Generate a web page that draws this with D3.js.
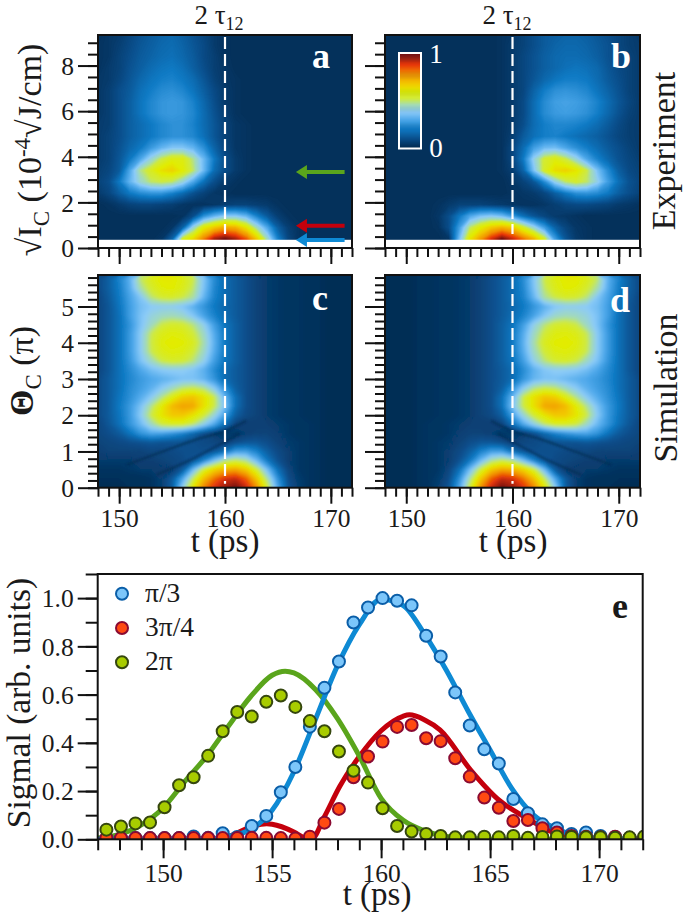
<!DOCTYPE html>
<html><head><meta charset="utf-8">
<script src="https://cdn.jsdelivr.net/npm/d3@7"></script>
<style>html,body{margin:0;padding:0;background:#fff}svg{display:block}text{font-family:"Liberation Serif",serif;fill:#1a1a1a}</style>
</head><body><svg id="c" width="685" height="916"></svg>
<script>
// ---- heatmap grids (percent of max); rows bottom to top, columns t = 148..172 by 1 ps
const heatTimes = d3.range(148, 173);
const expRows = d3.range(0.4, 9.5, 0.5);
const simRows = d3.range(0, 5.8, 0.25);
const gridA = [
[2,2,2,2,2,2,4,15,55,65,80,95,100,95,85,68,45,22,8,3,2,2,2,2,2],
[2,2,2,2,2,2,2,4,15,42,60,68,74,72,62,45,30,14,6,3,2,2,2,2,2],
[2,2,2,2,2,2,2,2,3,10,25,33,38,38,33,22,13,6,3,2,2,2,2,2,2],
[2,3,5,7,8,8,7,6,4,3,3,4,6,7,7,6,5,3,2,2,2,2,2,2,2],
[5,8,14,20,24,26,26,22,17,11,7,4,3,2,2,2,2,2,2,2,2,2,2,2,2],
[7,10,20,33,43,50,52,50,42,30,18,10,5,3,2,2,2,2,2,2,2,2,2,2,2],
[6,8,13,30,48,56,63,66,60,50,34,17,10,5,3,2,2,2,2,2,2,2,2,2,2],
[5,7,12,20,30,42,52,58,58,48,34,20,10,5,3,2,2,2,2,2,2,2,2,2,2],
[5,7,11,16,20,27,33,37,37,33,25,15,8,4,3,2,2,2,2,2,2,2,2,2,2],
[5,7,10,14,17,20,23,25,25,23,18,12,7,4,3,2,2,2,2,2,2,2,2,2,2],
[5,6,10,14,17,20,23,25,25,22,17,12,7,4,3,2,2,2,2,2,2,2,2,2,2],
[4,6,10,14,19,23,26,27,26,23,17,11,6,3,2,2,2,2,2,2,2,2,2,2,2],
[4,6,10,14,19,23,26,27,26,22,16,10,5,3,2,2,2,2,2,2,2,2,2,2,2],
[4,6,10,13,18,21,24,25,23,19,14,9,5,3,2,2,2,2,2,2,2,2,2,2,2],
[4,5,8,12,16,19,21,22,20,17,12,7,4,3,2,2,2,2,2,2,2,2,2,2,2],
[3,5,7,11,14,17,19,20,18,14,10,6,4,2,2,2,2,2,2,2,2,2,2,2,2],
[3,4,7,10,13,15,17,18,16,13,9,6,3,2,2,2,2,2,2,2,2,2,2,2,2],
[3,4,6,9,12,14,16,17,15,12,9,5,3,2,2,2,2,2,2,2,2,2,2,2,2],
[2,4,5,8,11,13,15,16,14,11,8,5,3,2,2,2,2,2,2,2,2,2,2,2,2]];
const gridB = [
[2,2,2,2,2,2,4,35,62,76,90,100,92,82,72,55,28,12,5,3,2,2,2,2,2],
[2,2,2,2,2,3,10,28,50,60,68,72,68,55,42,28,15,8,4,3,2,2,2,2,2],
[2,2,2,2,2,4,10,20,30,36,38,35,27,18,12,8,5,4,3,2,2,2,2,2,2],
[2,2,2,2,2,3,5,7,7,7,6,5,4,3,3,4,6,8,9,9,8,7,5,4,3],
[2,2,2,2,2,2,2,2,2,2,2,2,3,4,5,8,14,20,25,26,24,20,14,10,7],
[2,2,2,2,2,2,2,2,2,2,2,2,4,7,12,24,40,50,54,50,40,28,18,11,8],
[2,2,2,2,2,2,2,2,2,2,2,3,6,15,36,55,64,66,62,52,36,24,14,9,7],
[2,2,2,2,2,2,2,2,2,2,2,3,8,20,40,54,58,52,42,30,22,16,11,8,6],
[2,2,2,2,2,2,2,2,2,2,2,3,8,17,28,34,35,30,25,21,17,13,10,7,5],
[2,2,2,2,2,2,2,2,2,2,2,3,6,13,18,21,22,20,18,16,14,11,8,6,5],
[2,2,2,2,2,2,2,2,2,2,2,3,5,10,17,21,23,23,22,20,17,13,9,6,5],
[2,2,2,2,2,2,2,2,2,2,2,3,5,9,17,24,27,28,27,25,21,16,11,7,5],
[2,2,2,2,2,2,2,2,2,2,2,3,5,9,17,24,28,29,28,26,22,17,12,8,5],
[2,2,2,2,2,2,2,2,2,2,2,3,5,8,15,21,25,26,25,23,19,15,11,7,5],
[2,2,2,2,2,2,2,2,2,2,2,3,5,8,12,16,19,21,21,20,17,13,10,7,5],
[2,2,2,2,2,2,2,2,2,2,2,3,5,8,11,14,16,18,19,18,16,12,9,7,5],
[2,2,2,2,2,2,2,2,2,2,2,3,5,8,11,14,16,17,17,16,14,11,9,7,5],
[2,2,2,2,2,2,2,2,2,2,2,3,5,7,10,13,15,16,16,15,13,11,8,6,5],
[2,2,2,2,2,2,2,2,2,2,2,3,4,7,10,13,14,15,15,14,12,10,8,6,4]];
const gridC = [
[1,1,1,2,2,3,6,14,40,62,80,90,96,100,92,78,55,30,12,6,3,2,1,1,1],
[2,2,2,2,2,3,6,13,30,52,70,82,90,92,84,68,47,25,10,5,3,2,1,1,1],
[3,3,3,4,5,5,5,6,13,34,55,66,72,74,68,54,35,18,8,4,3,2,1,1,1],
[5,5,5,5,6,6,7,8,9,12,22,36,48,52,47,34,20,11,6,4,3,2,1,1,1],
[6,7,7,7,7,8,8,9,10,10,10,12,18,28,28,22,14,9,6,4,3,2,1,1,1],
[7,8,9,10,11,12,11,11,11,10,9,8,7,10,12,12,10,7,5,4,3,2,1,1,1],
[8,10,13,19,26,30,29,26,22,16,10,6,4,4,6,7,7,6,4,3,3,2,1,1,1],
[8,12,18,26,34,44,53,56,56,50,40,30,18,8,6,6,6,5,4,3,3,2,1,1,1],
[9,13,19,27,38,52,62,68,68,62,54,42,28,14,9,7,5,4,3,3,2,2,1,1,1],
[9,13,20,27,36,48,60,71,75,74,63,52,36,18,10,7,5,4,3,3,2,2,1,1,1],
[9,13,19,25,31,38,48,58,67,69,63,52,33,18,10,7,5,4,3,3,2,2,1,1,1],
[9,13,18,24,28,32,38,44,50,52,48,38,25,14,10,7,5,4,3,3,2,2,1,1,1],
[9,13,18,23,27,30,32,34,36,36,33,26,17,13,10,7,5,4,3,3,2,2,1,1,1],
[8,12,18,24,30,35,38,39,39,37,32,24,17,13,10,7,5,4,3,3,2,2,1,1,1],
[8,12,18,26,36,44,52,55,54,49,40,28,19,14,10,7,5,4,3,3,2,2,1,1,1],
[8,12,18,27,38,51,57,59,58,53,44,31,20,14,10,7,5,4,3,3,2,2,1,1,1],
[8,12,18,27,38,52,59,61,60,56,46,32,20,14,10,7,5,4,3,3,2,2,1,1,1],
[8,12,18,27,38,51,57,59,58,53,44,31,20,14,10,7,5,4,3,3,2,2,1,1,1],
[8,12,18,26,36,44,52,55,54,49,40,28,19,14,10,7,5,4,3,3,2,2,1,1,1],
[8,12,18,28,36,41,44,45,43,37,29,22,17,13,10,7,5,4,3,3,2,2,1,1,1],
[8,12,19,28,35,38,39,39,37,32,26,20,16,13,10,7,5,4,3,3,2,2,1,1,1],
[8,13,20,29,37,49,54,55,52,47,33,22,17,13,10,7,5,4,3,3,2,2,1,1,1],
[9,14,21,31,46,54,59,60,57,50,36,23,17,13,10,7,5,4,3,3,2,2,1,1,1],
[9,14,22,32,50,57,61,61,58,52,37,24,17,13,10,7,5,4,3,3,2,2,1,1,1]];
const gridD = gridC.map(r => r.slice().reverse());
// dark nodal lines of the simulation panel c, as [t, theta]
const nodeUpper = [[150.7,.63],[154.5,1.04],[157.6,1.36],[160,1.56],[162,1.85]];
const nodeLower = [[153.5,.35],[156.4,.72],[160,1.27],[161.4,1.5]];

// ---- colour map
const cmapStops = [0,.1,.2,.3,.38,.46,.52,.6,.68,.78,.88,1];
const cmapColors = ["#03294f","#0a4f8c","#0f7ac4","#4ea8ea","#8ccbf8","#a6dcb0","#cfea40","#e2ec00","#f2c800","#f29000","#e8380a","#6e0f12"];
const color = d3.scaleLinear().domain(cmapStops).range(cmapColors).clamp(true);

// ---- panel e data
const pointTimes = d3.range(38).map(i => 147.4 + i * 2 / 3);
const blueValues = [.005,.005,.005,.005,.005,.005,.012,.006,.025,.01,.055,.097,.195,.30,.467,.628,.737,.899,.961,1.0,.989,.97,.844,.758,.609,.472,.373,.314,.167,.108,.062,.046,.022,.028,.014,.01,.006,.006];
const redValues = [.006,.005,.005,.005,.005,.005,.005,.005,.005,.005,.006,.006,.005,.003,.011,.069,.126,.257,.343,.405,.466,.474,.419,.407,.336,.26,.173,.131,.076,.08,.046,.028,.014,.011,.008,.011,.006,.006];
const greenValues = [.04,.053,.066,.07,.133,.224,.257,.346,.448,.528,.509,.57,.596,.549,.49,.448,.364,.284,.235,.129,.055,.032,.022,.014,.008,.008,.011,.008,.014,.006,.01,.012,.01,.008,.008,.006,.008,.012];
const blueLineT = [147,152,153,154,155,156,157,158,159,160,161,162,163,164,165,166,167,168,169,170,172];
const blueLineV = [0,0,.012,.04,.12,.28,.50,.72,.89,.995,.97,.85,.70,.53,.37,.21,.10,.045,.015,.005,0];
const redLineT = [147,152,153,154,154.75,155,156,156.5,156.8,157.4,158.1,159,160,161,161.3,162,162.7,164.1,165.4,166.7,168,169,170,172];
const redLineV = [0,.002,.012,.05,.064,.062,.03,.005,0,.094,.219,.343,.45,.51,.516,.495,.454,.288,.163,.087,.025,.007,.001,0];
const greenLineT = [147,148,149,150,151,152,153,154,155,155.6,156,157,158,159,160,161,162,163,164,165,172];
const greenLineV = [.005,.02,.06,.13,.24,.345,.47,.59,.68,.697,.69,.62,.5,.345,.17,.08,.035,.012,.004,0,0];
const legendLabels = ["π/3","3π/4","2π"];

const svg = d3.select("#c");
const defs = svg.append("defs");
defs.append("filter").attr("id","soft").attr("x","-5%").attr("y","-5%").attr("width","110%").attr("height","110%").append("feGaussianBlur").attr("stdDeviation",1.5);
defs.append("filter").attr("id","softLine").attr("filterUnits","userSpaceOnUse").attr("x",0).attr("y",0).attr("width",685).attr("height",916).append("feGaussianBlur").attr("stdDeviation",1);
let clipId = 0;
const black = "#111";

function axisTicks(g, axis){
  g.call(axis);
  g.select(".domain").remove();
  g.selectAll("line").attr("stroke", black).attr("stroke-width", 2);
}

function heatPanel(o){
  const x = d3.scaleLinear().domain([148,172]).range([o.l,o.r]);
  const y = d3.scaleLinear().domain([0,o.top]).range([o.b,o.t]);
  const id = "clip"+(clipId++);
  defs.append("clipPath").attr("id",id).append("rect").attr("x",o.l).attr("y",o.t).attr("width",o.r-o.l).attr("height",o.b-o.t);
  const g = svg.append("g");
  const plot = g.append("g").attr("clip-path",`url(#${id})`);
  plot.append("rect").attr("x",o.l).attr("y",o.t).attr("width",o.r-o.l).attr("height",o.b-o.t).attr("fill",color(0));
  const n = heatTimes.length, m = o.rows.length;
  const vals = o.grid.flat();
  const contours = d3.contours().size([n,m]).thresholds(d3.range(0.5,100,0.5))(vals);
  const dt = heatTimes[1]-heatTimes[0], dv = o.rows[1]-o.rows[0];
  const proj = d3.geoTransform({point(px,py){
    this.stream.point(x(heatTimes[0]+(px-0.5)*dt), y(o.rows[0]+(py-0.5)*dv));
  }});
  const path = d3.geoPath(proj);
  plot.append("g").attr("filter",o.nodes?"url(#soft)":null).selectAll("path").data(contours).join("path").attr("d",path).attr("fill",d=>color(d.value/100));
  if(o.nodes){
    const ln = d3.line().curve(d3.curveCatmullRom).x(d=>x(o.mirror?320-d[0]:d[0])).y(d=>y(d[1]));
    o.nodes.forEach(nd=>{
      plot.append("path").attr("d",ln(nd)).attr("fill","none").attr("stroke",color(0)).attr("stroke-width",2.2).attr("stroke-opacity",.65).attr("filter","url(#softLine)");
    });
  }
  if(o.white!=null){
    plot.append("rect").attr("x",o.l).attr("y",y(o.white)).attr("width",o.r-o.l).attr("height",o.b-y(o.white)).attr("fill","#fff");
  }
  g.append("line").attr("x1",x(160)).attr("x2",x(160)).attr("y1",o.t+2).attr("y2",o.b-(o.dashEnd||0)).attr("stroke","#fff").attr("stroke-width",2.2).attr("stroke-dasharray","12,5");
  axisTicks(g.append("g").attr("transform",`translate(0,${o.b})`), d3.axisBottom(x).tickValues(d3.range(148,173)).tickSize(9).tickFormat(""));
  const major = g.append("g").attr("transform",`translate(0,${o.b})`);
  axisTicks(major, d3.axisBottom(x).tickValues([150,160,170]).tickSize(16).tickFormat(d=>d));
  major.selectAll("text").attr("font-size",25.5).attr("dy",0).attr("y",39);
  if(!o.showX) major.selectAll("text").remove();
  axisTicks(g.append("g").attr("transform",`translate(${o.l},0)`), d3.axisLeft(y).tickValues(o.minor).tickSize(10).tickFormat(""));
  const my = g.append("g").attr("transform",`translate(${o.l},0)`);
  axisTicks(my, d3.axisLeft(y).tickValues(o.major).tickSize(20).tickFormat(d=>d));
  my.selectAll("text").attr("font-size",25.5).attr("x",-24).attr("dy","0.34em");
  if(!o.showY) my.selectAll("text").remove();
  g.append("rect").attr("x",o.l).attr("y",o.t).attr("width",o.r-o.l).attr("height",o.b-o.t).attr("fill","none").attr("stroke",black).attr("stroke-width",2);
  g.append("text").attr("x",o.lx).attr("y",o.ly).attr("text-anchor","middle").attr("font-size",36).attr("font-weight","bold").style("fill","#fff").text(o.letter);
  return {x,y,g};
}

const expMajor=[0,2,4,6,8], expMinor=d3.range(0,9.01,0.5);
const simMajor=[0,1,2,3,4,5], simMinor=d3.range(0,5.81,0.2);
const pa = heatPanel({l:98,r:352,t:35,b:248,top:9.34,rows:expRows,grid:gridA,white:0.36,major:expMajor,minor:expMinor,showY:true,showX:false,lx:321,ly:68,letter:"a",dashEnd:14});
const pb = heatPanel({l:385,r:640,t:35,b:248,top:9.34,rows:expRows,grid:gridB,white:0.36,major:expMajor,minor:expMinor,showY:false,showX:false,lx:621,ly:68,letter:"b",dashEnd:14});
const pc = heatPanel({l:98,r:352,t:275,b:487.7,top:5.87,rows:simRows,grid:gridC,nodes:[nodeUpper,nodeLower],major:simMajor,minor:simMinor,showY:true,showX:true,lx:320,ly:310,letter:"c",dashEnd:4});
const pd = heatPanel({l:385,r:640,t:275,b:487.7,top:5.87,rows:simRows,grid:gridD,nodes:[nodeUpper,nodeLower],mirror:true,major:simMajor,minor:simMinor,showY:false,showX:true,lx:620,ly:312,letter:"d",dashEnd:4});

// arrows on panel a
const arrowLevels = [3.33,0.98,0.35];
const arrowColors = ["#5aa51c","#c4000c","#0e8ad4"];
arrowLevels.forEach((v,i)=>{
  const y0=pa.y(v), x0=pa.x(171.3), x1=pa.x(166.7);
  pa.g.append("line").attr("x1",x0).attr("x2",x1+8).attr("y1",y0).attr("y2",y0).attr("stroke",arrowColors[i]).attr("stroke-width",4);
  pa.g.append("path").attr("d",d3.line()([[x1,y0],[x1+11,y0-7],[x1+11,y0+7]])+"Z").attr("fill",arrowColors[i]);
});

// colour bar on panel b
const cbY = d3.scaleLinear().domain([0,1]).range([148,53.5]);
const cbG = pb.g.append("g");
d3.range(0,1,0.01).forEach(v=>{
  cbG.append("rect").attr("x",400).attr("width",20).attr("y",cbY(v+0.01)).attr("height",cbY(v)-cbY(v+0.01)+0.5).attr("fill",color(v));
});
cbG.append("rect").attr("x",399).attr("y",53).attr("width",22).attr("height",95.5).attr("fill","none").attr("stroke","#fff").attr("stroke-width",2);
cbG.append("text").attr("x",436).attr("y",63).attr("text-anchor","middle").attr("font-size",27).style("fill","#fff").text("1");
cbG.append("text").attr("x",436).attr("y",157).attr("text-anchor","middle").attr("font-size",27).style("fill","#fff").text("0");

// top labels
[225,513].forEach(cx=>{
  const t=svg.append("text").attr("x",cx-6).attr("y",24).attr("text-anchor","middle").attr("font-size",27);
  t.append("tspan").text("2 τ");
  t.append("tspan").attr("font-size",18).attr("dy",6).text("12");
});
// x labels
[225,513].forEach(cx=>svg.append("text").attr("x",cx).attr("y",552).attr("text-anchor","middle").attr("font-size",33).text("t (ps)"));
svg.append("text").attr("x",377).attr("y",905).attr("text-anchor","middle").attr("font-size",33).text("t (ps)");

function rotLabel(x,y,size,build){
  const t=svg.append("text").attr("transform",`translate(${x},${y}) rotate(-90)`).attr("text-anchor","middle").attr("font-size",size);
  build(t); return t;
}
rotLabel(41,150,34,t=>{
  t.append("tspan").text("√I");
  t.append("tspan").attr("font-size",23).attr("dy",8).text("C");
  t.append("tspan").attr("dy",-8).text(" (10");
  t.append("tspan").attr("font-size",23).attr("dy",-11).text("-4");
  t.append("tspan").attr("dy",11).text("√J/cm)");
});
rotLabel(33,371,34,t=>{
  t.append("tspan").attr("font-weight","bold").text("Θ");
  t.append("tspan").attr("font-size",23).attr("dy",8).text("C");
  t.append("tspan").attr("dy",-8).text(" (π)");
});
rotLabel(30,703,33.5,t=>t.text("Sigmal (arb. units)"));
rotLabel(675,151,34,t=>t.text("Experiment"));
rotLabel(677,388,34,t=>t.text("Simulation"));

// panel e
const ex = d3.scaleLinear().domain([147,172]).range([97.7,642.7]);
const ey = d3.scaleLinear().domain([0,1.1]).range([839.3,574]);
const eg = svg.append("g");
defs.append("clipPath").attr("id","clipE").append("rect").attr("x",97.7).attr("y",574).attr("width",545).attr("height",265.3);
const ep = eg.append("g").attr("clip-path","url(#clipE)");
const lineGen = d3.line().curve(d3.curveMonotoneX);
[[redLineT,redLineV,"#c4000c"],[greenLineT,greenLineV,"#5aa51c"],[blueLineT,blueLineV,"#0e8ad4"]].forEach(([T,V,c])=>{
  ep.append("path").attr("d",lineGen(T.map((t,i)=>[ex(t),ey(V[i])]))).attr("fill","none").attr("stroke",c).attr("stroke-width",5);
});
const pointStyles = [[blueValues,"#7cc6fa","#0a5ea8"],[redValues,"#ff4a12","#8a0a32"],[greenValues,"#a8cc00","#35470e"]];
pointStyles.forEach(([vals,f,s])=>{
  ep.selectAll(null).data(vals).join("circle").attr("cx",(d,i)=>ex(pointTimes[i])).attr("cy",d=>ey(d)).attr("r",6).attr("fill",f).attr("stroke",s).attr("stroke-width",2);
});
axisTicks(eg.append("g").attr("transform","translate(0,839.3)"), d3.axisBottom(ex).tickValues(d3.range(147,173)).tickSize(11).tickFormat(""));
const emx = eg.append("g").attr("transform","translate(0,839.3)");
axisTicks(emx, d3.axisBottom(ex).tickValues([150,155,160,165,170]).tickSize(19).tickFormat(d=>d));
emx.selectAll("text").attr("font-size",25.5).attr("dy",0).attr("y",42.5);
axisTicks(eg.append("g").attr("transform","translate(97.7,0)"), d3.axisLeft(ey).tickValues(d3.range(0,1.11,0.1)).tickSize(12).tickFormat(""));
const emy = eg.append("g").attr("transform","translate(97.7,0)");
axisTicks(emy, d3.axisLeft(ey).tickValues([0,.2,.4,.6,.8,1]).tickSize(20).tickFormat(d3.format(".1f")));
emy.selectAll("text").attr("font-size",25.5).attr("x",-24).attr("dy","0.34em");
eg.append("rect").attr("x",97.7).attr("y",574).attr("width",545).attr("height",265.3).attr("fill","none").attr("stroke",black).attr("stroke-width",2);
eg.append("text").attr("x",620).attr("y",618).attr("text-anchor","middle").attr("font-size",36).attr("font-weight","bold").text("e");
legendLabels.forEach((l,i)=>{
  const cy=593.7+i*34.3;
  eg.append("circle").attr("cx",122).attr("cy",cy).attr("r",6).attr("fill",pointStyles[i][1]).attr("stroke",pointStyles[i][2]).attr("stroke-width",2);
  eg.append("text").attr("x",145).attr("y",cy+8).attr("font-size",27.5).text(l);
});
</script></body></html>
